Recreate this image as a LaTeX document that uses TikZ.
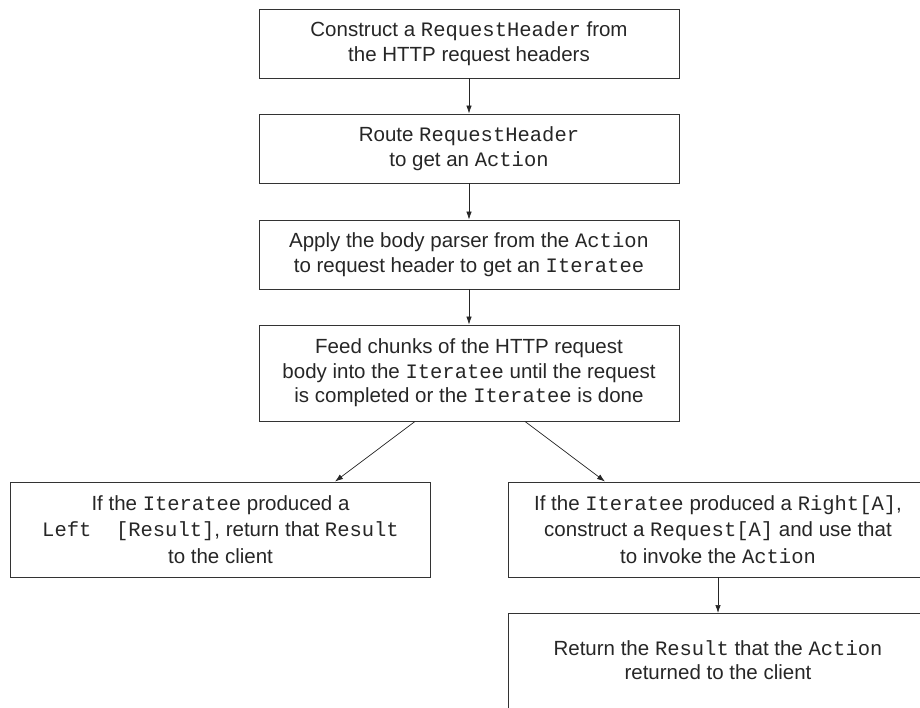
\documentclass[tikz,border=0pt]{standalone}
\usepackage{fontspec}
\setmainfont{Liberation Sans}
\setmonofont{Liberation Mono}
\usetikzlibrary{arrows.meta}

\begin{document}
\begin{tikzpicture}[x=1pt, y=-1pt,
  stepbox/.style={draw=black!80, line width=0.9pt, minimum width=420pt,
    align=center, inner sep=0pt, text=black!85,
    font=\fontsize{20.5}{24.5}\selectfont},
  widebox/.style={stepbox, minimum height=95pt,
    font=\fontsize{20.5}{26.5}\selectfont},
  steparrow/.style={-{Latex[length=8pt,width=5.5pt]}, line width=0.7pt, draw=black!85}
]
\clip (0,0) rectangle (920,708);
\node[stepbox, minimum height=69pt] (header) at (469,43.5)
  {Construct a \texttt{RequestHeader} from\\the HTTP request headers};
\node[stepbox, minimum height=69pt] (route) at (469,148.5)
  {Route \texttt{RequestHeader}\\to get an \texttt{Action}};
\node[stepbox, minimum height=69pt] (parser) at (469,254.5)
  {Apply the body parser from the \texttt{Action}\\to request header to get an \texttt{Iteratee}};
\node[stepbox, minimum height=96pt] (feed) at (469,373)
  {Feed chunks of the HTTP request\\body into the \texttt{Iteratee} until the request\\is completed or the \texttt{Iteratee} is done};
\node[widebox] (left) at (220.5,529.5)
  {If the \texttt{Iteratee} produced a\\\texttt{Left\ \ [Result]}, return that \texttt{Result}\\to the client};
\node[widebox] (right) at (718,529.5)
  {If the \texttt{Iteratee} produced a \texttt{Right[A]},\\construct a \texttt{Request[A]} and use that\\to invoke the \texttt{Action}};
\node[stepbox, anchor=north, text depth=80pt] (result) at (718,613)
  {\rule{0pt}{42pt}Return the \texttt{Result} that the \texttt{Action}\\returned to the client};
\foreach \a/\b in {header/route,route/parser,parser/feed,right/result}
  \draw[steparrow] (\a.south) -- (\b.north);
\draw[steparrow] (feed.south -| 415,0) -- (left.north -| 335,0);
\draw[steparrow] (feed.south -| 525,0) -- (right.north -| 605,0);
\end{tikzpicture}
\end{document}
